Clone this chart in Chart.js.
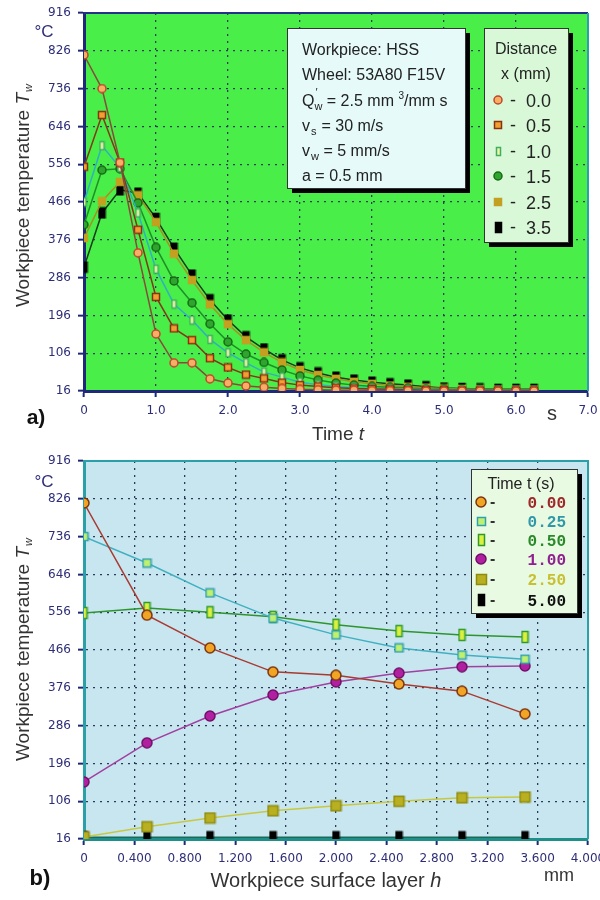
<!DOCTYPE html>
<html>
<head>
<meta charset="utf-8">
<script src="https://cdn.jsdelivr.net/npm/chart.js@4.4.1/dist/chart.umd.min.js"></script>
<style>
  body { margin: 0; background: #fff; }
  #wrap { position: relative; width: 600px; height: 900px; }
  canvas { position: absolute; left: 0; }
</style>
</head>
<body>
<div id="wrap">
  <canvas id="timeChart" width="600" height="450" style="top:0"></canvas>
  <canvas id="depthChart" width="600" height="450" style="top:450px"></canvas>
</div>
<script>
// ---- chart a) : temperature vs time, one series per distance x (mm)
const timeS = [0, 0.25, 0.5, 0.75, 1.0, 1.25, 1.5, 1.75, 2.0, 2.25, 2.5, 2.75, 3.0,
  3.25, 3.5, 3.75, 4.0, 4.25, 4.5, 4.75, 5.0, 5.25, 5.5, 5.75, 6.0, 6.25];
const distX00 = [816, 736, 560, 345, 152, 83, 83, 45, 35, 28, 25, 22, 20, 19, 18, 18, 17, 17, 17, 16, 16, 16, 16, 16, 16, 16];
const distX05 = [550, 673, 560, 400, 240, 165, 137, 94, 72, 55, 46, 36, 30, 27, 24, 22, 21, 20, 19, 18, 18, 17, 17, 17, 17, 17];
const distX10 = [466, 600, 548, 440, 306, 223, 185, 139, 107, 83, 61, 49, 37, 31, 27, 24, 22, 21, 20, 19, 18, 18, 18, 17, 17, 17];
const distX15 = [412, 542, 545, 464, 358, 278, 226, 176, 133, 104, 84, 66, 52, 42, 35, 30, 27, 25, 23, 21, 20, 19, 19, 18, 18, 18];
const distX25 = [380, 468, 514, 482, 418, 343, 280, 222, 175, 137, 108, 84, 66, 54, 45, 38, 33, 29, 26, 24, 22, 21, 20, 19, 19, 19];
const distX35 = [311, 440, 495, 487, 427, 356, 292, 233, 185, 145, 116, 90, 71, 59, 49, 42, 37, 33, 30, 26, 23, 22, 21, 20, 20, 20];
const distLabels = ['0.0', '0.5', '1.0', '1.5', '2.5', '3.5'];

// ---- chart b) : temperature vs depth h (mm), one series per time t (s)
const depthH = [0, 0.5, 1.0, 1.5, 2.0, 2.5, 3.0, 3.5];
const timeT000 = [816, 549, 471, 414, 406, 385, 368, 314];
const timeT025 = [736, 673, 602, 542, 502, 471, 454, 444];
const timeT050 = [554, 566, 556, 545, 526, 511, 502, 497];
const timeT100 = [152, 245, 309, 359, 390, 411, 426, 428];
const timeT250 = [21, 45, 66, 83, 95, 106, 114, 116];
const timeT500 = [20, 20, 20, 20, 20, 20, 20, 20];
const timeLabels = ['0.00', '0.25', '0.50', '1.00', '2.50', '5.00'];

// y ticks are the same on both charts: 16 .. 916 every 90
const tempMin = 16, tempMax = 916, tempStep = 90;

const SANS = '"Liberation Sans", Arial, sans-serif';
const TICK_FONT = { family: '"DejaVu Sans", Verdana, sans-serif', size: 12 };
const TICK_COLOR = '#2e2e78';

// small canvases used as point styles
function marker(shape, w, h, fill, stroke) {
  const c = document.createElement('canvas');
  c.width = w + 2; c.height = h + 2;
  const g = c.getContext('2d');
  g.fillStyle = fill; g.strokeStyle = stroke; g.lineWidth = 1.5;
  if (shape === 'circle') {
    g.beginPath();
    g.ellipse(c.width / 2, c.height / 2, w / 2, h / 2, 0, 0, Math.PI * 2);
    g.fill(); g.stroke();
  } else {
    g.fillRect(1, 1, w, h);
    g.strokeRect(1.5, 1.5, w - 1, h - 1);
  }
  return c;
}

const topMarkers = [
  marker('circle', 8, 8, '#f5b066', '#c0452a'),
  marker('rect', 8, 8, '#f0a030', '#8a3010'),
  marker('rect', 5, 9, '#f4f4a8', '#3cb060'),
  marker('circle', 8, 8, '#2ea62e', '#176a17'),
  marker('rect', 8, 8, '#c4a020', '#c4a020'),
  marker('rect', 7, 11, '#000', '#000')
];
const topLines = ['#8a4a3a', '#803a1a', '#30b0c0', '#1f8f28', '#a89020', '#1a3a1a'];

const botMarkers = [
  marker('circle', 10, 10, '#f2a424', '#7a3410'),
  marker('rect', 9, 9, '#bff070', '#2fa0b0'),
  marker('rect', 7, 12, '#dcf040', '#2e9a2e'),
  marker('circle', 10, 10, '#b020a0', '#701068'),
  marker('rect', 11, 11, '#b8b020', '#8f8a10'),
  marker('rect', 7, 12, '#000', '#000')
];
const botLines = ['#a83a30', '#40b0c0', '#2e952e', '#a040a0', '#c8c840', '#1a6a5a'];
const botTextColors = ['#a02828', '#3098a8', '#2a8a2a', '#902090', '#c8c030', '#111'];

function pts(xs, ys) {
  return xs.map((x, i) => ({ x: x, y: ys[i] }));
}

function makeSets(xs, series, labels, markers, lines) {
  return series.map((ys, i) => ({
    label: labels[i],
    data: pts(xs, ys),
    borderColor: lines[i],
    borderWidth: 1.5,
    pointStyle: markers[i],
    pointRadius: 5,
    tension: 0
  }));
}

function yScale(axisColor) {
  return {
    type: 'linear', min: tempMin, max: tempMax,
    ticks: { stepSize: tempStep, color: TICK_COLOR, font: TICK_FONT, padding: 7 },
    grid: { color: '#2a3a5a', lineWidth: 1.3, tickLength: 6, tickColor: '#1e2a78', tickWidth: 2 },
    border: { color: axisColor, width: 3, dash: [2, 5] },
    afterFit(s) { s.width = 84; s.paddingTop = 0; s.paddingBottom = 0; }
  };
}

function xScale(max, step, digits, axisColor, h) {
  return {
    type: 'linear', min: 0, max: max,
    ticks: {
      stepSize: step, color: TICK_COLOR, font: TICK_FONT, padding: 7, maxRotation: 0, autoSkip: false,
      callback: v => v === 0 ? '0' : v.toFixed(digits)
    },
    grid: { color: '#2a3a5a', lineWidth: 1.3, tickLength: 6, tickColor: '#1e2a78', tickWidth: 2 },
    border: { color: axisColor, width: 3, dash: [2, 5] },
    afterFit(s) { s.height = h; s.paddingLeft = 0; s.paddingRight = 0; }
  };
}

// rotated y axis title with italic subscript
function yTitle(ctx, cx, cy) {
  ctx.save();
  ctx.translate(cx, cy);
  ctx.rotate(-Math.PI / 2);
  ctx.fillStyle = '#333';
  ctx.textAlign = 'left';
  ctx.textBaseline = 'middle';
  const main = 'Workpiece temperature ';
  ctx.font = '19px ' + SANS;
  const w1 = ctx.measureText(main).width;
  ctx.font = 'italic 19px ' + SANS;
  const w2 = ctx.measureText('T').width;
  ctx.font = 'italic 11px ' + SANS;
  const w3 = ctx.measureText('w').width;
  let x = -(w1 + w2 + w3) / 2;
  ctx.font = '19px ' + SANS;
  ctx.fillText(main, x, 0); x += w1;
  ctx.font = 'italic 19px ' + SANS;
  ctx.fillText('T', x, 0); x += w2;
  ctx.font = 'italic 11px ' + SANS;
  ctx.fillText('w', x + 1, 5);
  ctx.restore();
}

function shadowBox(ctx, x, y, w, h, fill) {
  ctx.fillStyle = '#000';
  ctx.fillRect(x + 5, y + 5, w, h);
  ctx.fillStyle = fill;
  ctx.fillRect(x, y, w, h);
  ctx.strokeStyle = '#333';
  ctx.lineWidth = 1;
  ctx.strokeRect(x + 0.5, y + 0.5, w, h);
}

function drawMarker(ctx, img, x, y) {
  ctx.drawImage(img, Math.round(x - img.width / 2), Math.round(y - img.height / 2));
}

const decorTop = {
  id: 'decorTop',
  beforeDraw(chart) {
    const { ctx, chartArea: a } = chart;
    ctx.save();
    ctx.fillStyle = '#49ee49';
    ctx.fillRect(a.left, a.top, a.right - a.left, a.bottom - a.top);
    ctx.restore();
  },
  afterDraw(chart) {
    const { ctx, chartArea: a } = chart;
    ctx.save();
    // top and right frame
    ctx.lineWidth = 2;
    ctx.strokeStyle = '#23308a';
    ctx.beginPath(); ctx.moveTo(a.left, a.top); ctx.lineTo(a.right, a.top); ctx.stroke();
    ctx.strokeStyle = '#2aa0b0';
    ctx.beginPath(); ctx.moveTo(a.right, a.top); ctx.lineTo(a.right, a.bottom); ctx.stroke();

    // parameter box
    shadowBox(ctx, 287, 28, 178, 160, '#e6fafa');
    ctx.fillStyle = '#222';
    ctx.textBaseline = 'alphabetic';
    ctx.textAlign = 'left';
    ctx.font = '16px ' + SANS;
    ctx.fillText('Workpiece: HSS', 302, 55);
    ctx.fillText('Wheel: 53A80 F15V', 302, 80);
    let x = 302;
    ctx.fillText('Q', x, 106); x += ctx.measureText('Q').width;
    ctx.font = '11px ' + SANS;
    ctx.fillText('w', x, 110);
    ctx.fillText('\u2032', x + 1, 96);
    x += ctx.measureText('w').width;
    ctx.font = '16px ' + SANS;
    ctx.fillText(' = 2.5 mm ', x, 106); x += ctx.measureText(' = 2.5 mm ').width;
    ctx.font = '10px ' + SANS;
    ctx.fillText('3', x, 99); x += ctx.measureText('3').width;
    ctx.font = '16px ' + SANS;
    ctx.fillText('/mm s', x, 106);
    ctx.fillText('v', 302, 131);
    ctx.font = '11px ' + SANS; ctx.fillText('s', 311, 135);
    ctx.font = '16px ' + SANS; ctx.fillText(' = 30 m/s', 317, 131);
    ctx.fillText('v', 302, 156);
    ctx.font = '11px ' + SANS; ctx.fillText('w', 311, 160);
    ctx.font = '16px ' + SANS; ctx.fillText(' = 5 mm/s', 319, 156);
    ctx.fillText('a = 0.5 mm', 302, 181);

    // legend: Distance x (mm)
    shadowBox(ctx, 484, 28, 84, 214, '#d8f8d8');
    ctx.fillStyle = '#222';
    ctx.textAlign = 'center';
    ctx.font = '16px ' + SANS;
    ctx.fillText('Distance', 526, 54);
    ctx.fillText('x (mm)', 526, 79);
    const rows = [100, 125, 151, 176, 202, 227];
    rows.forEach((cy, i) => {
      drawMarker(ctx, topMarkers[i], 498, cy);
      ctx.textAlign = 'left';
      ctx.font = '18px ' + SANS;
      ctx.fillStyle = '#222';
      ctx.fillText('-', 510, cy + 6);
      ctx.fillText(distLabels[i], 526, cy + 7);
    });

    // axis titles and labels
    yTitle(ctx, 24, 196);
    ctx.fillStyle = '#2e2e78';
    ctx.textAlign = 'center';
    ctx.font = '17px ' + SANS;
    ctx.fillText('\u00b0C', 44, 37);
    ctx.fillStyle = '#333';
    ctx.font = '20px ' + SANS;
    ctx.fillText('s', 552, 420);
    ctx.font = 'bold 21px ' + SANS;
    ctx.fillStyle = '#111';
    ctx.fillText('a)', 36, 424);
    ctx.font = '19px ' + SANS;
    ctx.fillStyle = '#333';
    ctx.textAlign = 'left';
    ctx.fillText('Time ', 312, 440);
    const tw = ctx.measureText('Time ').width;
    ctx.font = 'italic 19px ' + SANS;
    ctx.fillText('t', 312 + tw, 440);
    ctx.restore();
  }
};

const decorBottom = {
  id: 'decorBottom',
  beforeDraw(chart) {
    const { ctx, chartArea: a } = chart;
    ctx.save();
    ctx.fillStyle = '#c8e6f0';
    ctx.fillRect(a.left, a.top, a.right - a.left, a.bottom - a.top);
    ctx.restore();
  },
  afterDraw(chart) {
    const { ctx, chartArea: a } = chart;
    ctx.save();
    ctx.lineWidth = 2;
    ctx.strokeStyle = '#2aa0a8';
    ctx.beginPath(); ctx.moveTo(a.left, a.top); ctx.lineTo(a.right, a.top); ctx.lineTo(a.right, a.bottom); ctx.stroke();

    // legend: Time t (s)
    shadowBox(ctx, 471, 19, 106, 144, '#e8fae2');
    ctx.fillStyle = '#222';
    ctx.textAlign = 'center';
    ctx.font = '16px ' + SANS;
    ctx.fillText('Time t (s)', 521, 39);
    const rows = [52, 71, 90, 109, 129, 150];
    rows.forEach((cy, i) => {
      drawMarker(ctx, botMarkers[i], 481, cy);
      ctx.fillStyle = '#333';
      ctx.textAlign = 'left';
      ctx.font = 'bold 16px ' + SANS;
      ctx.fillText('-', 490, cy + 5);
      ctx.fillStyle = botTextColors[i];
      ctx.textAlign = 'right';
      ctx.font = 'bold 16px "Liberation Mono", "DejaVu Sans Mono", monospace';
      ctx.fillText(timeLabels[i], 566, cy + 6);
    });

    yTitle(ctx, 24, 200);
    ctx.fillStyle = '#2e2e78';
    ctx.textAlign = 'center';
    ctx.font = '17px ' + SANS;
    ctx.fillText('\u00b0C', 44, 37);
    ctx.fillStyle = '#333';
    ctx.font = '18px ' + SANS;
    ctx.fillText('mm', 559, 431);
    ctx.font = 'bold 22px ' + SANS;
    ctx.fillStyle = '#111';
    ctx.fillText('b)', 40, 435);
    ctx.font = '20px ' + SANS;
    ctx.fillStyle = '#333';
    ctx.textAlign = 'left';
    const t1 = 'Workpiece surface layer ';
    const w1 = ctx.measureText(t1).width;
    ctx.font = 'italic 20px ' + SANS;
    const w2 = ctx.measureText('h').width;
    const x0 = 326 - (w1 + w2) / 2;
    ctx.font = '20px ' + SANS;
    ctx.fillText(t1, x0, 437);
    ctx.font = 'italic 20px ' + SANS;
    ctx.fillText('h', x0 + w1, 437);
    ctx.restore();
  }
};

const common = {
  responsive: false,
  animation: false,
  devicePixelRatio: 1,
  plugins: { legend: { display: false }, tooltip: { enabled: false } }
};

new Chart(document.getElementById('timeChart'), {
  type: 'line',
  data: {
    datasets: makeSets(timeS, [distX00, distX05, distX10, distX15, distX25, distX35],
      distLabels, topMarkers, topLines)
  },
  options: Object.assign({}, common, {
    layout: { padding: { left: 0, right: 12, top: 13, bottom: 0 } },
    scales: {
      x: xScale(7, 1, 1, '#1e2a78', 59),
      y: yScale('#1e2a78')
    }
  }),
  plugins: [decorTop]
});

new Chart(document.getElementById('depthChart'), {
  type: 'line',
  data: {
    datasets: makeSets(depthH, [timeT000, timeT025, timeT050, timeT100, timeT250, timeT500],
      timeLabels, botMarkers, botLines)
  },
  options: Object.assign({}, common, {
    layout: { padding: { left: 0, right: 12, top: 11, bottom: 0 } },
    scales: {
      x: xScale(4, 0.4, 3, '#1f8f8a', 61),
      y: yScale('#2aa0a8')
    }
  }),
  plugins: [decorBottom]
});
</script>
</body>
</html>
